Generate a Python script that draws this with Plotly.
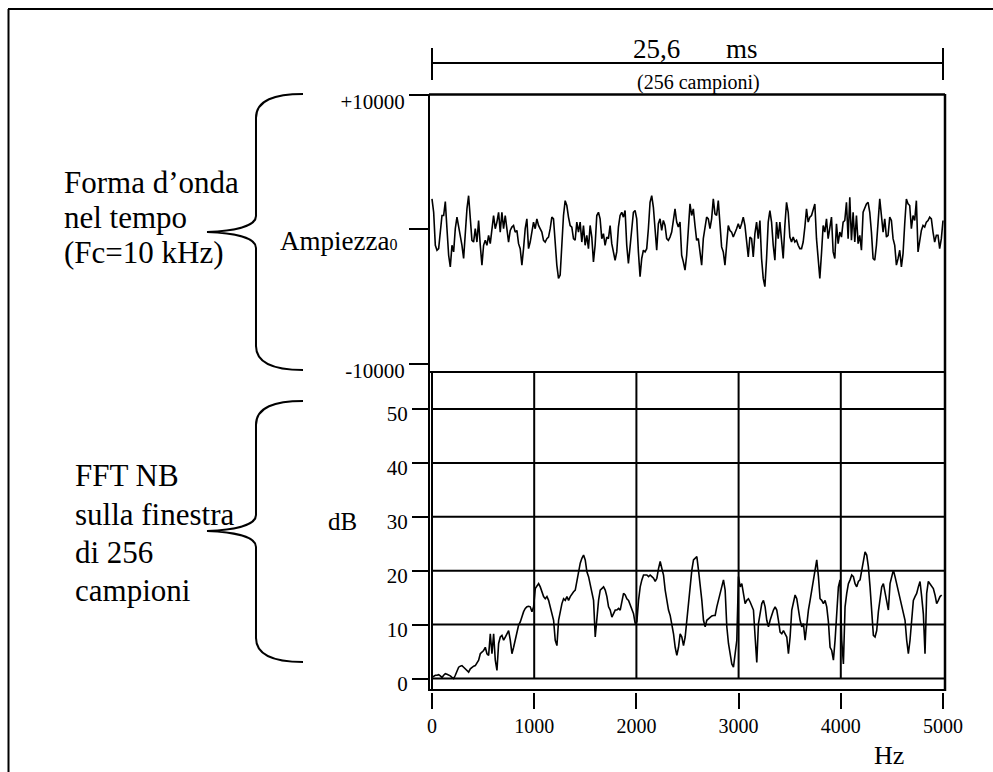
import numpy as np
import plotly.graph_objects as go

W, H = 993, 772
FONT = "Liberation Serif"

# ---------------- data ----------------
WINDOW_MS = 25.6
amplitude = [
    2250, 1260, -1190, -1560, -1440, -210, 1020, 1020, 2050, 40,
    -1930, -2790, -1190, -1680, 40, 900, 280, -450, -1190, -2170,
    -210, 1510, 2490, 1020, -820, -950, 40, -950, 650, -1190,
    -2660, -1190, -820, -1190, -450, -1070, 160, 1020, 40, 530,
    1260, -210, 1260, 40, 1020, 40, -950, -90, 160, 280,
    -210, -90, -1070, -1440, -2660, -1440, 40, 770, -1440, -950,
    -210, 530, 40, 770, 280, 40, -210, -820, -950, -700,
    -580, 40, 900, 770, -1440, -2660, -3650, -3400, -1190, 1020,
    2120, 1760, 900, 280, 160, -700, -820, 530, -210, 530,
    -950, 280, -1190, -450, -1440, 280, -580, -2420, -1190, 1020,
    1260, 770, -700, -330, -1190, -580, -700, 280, -1070, -1680,
    -2300, -1680, 160, 1020, 1260, 900, 1390, -1190, -2540, -1310,
    280, 1260, 1390, 770, -1680, -3520, -2170, -1560, -1680, -1440,
    40, 2000, 2490, 1630, 40, -1560, 410, 770, -90, 650,
    280, -700, -820, -580, -210, 770, 1510, 530, 160,
    530, -1930, -2420, -3030, -1930, -210, 1880, 1020, 1510, 280,
    -820, -700, -1800, -2660, -700, 40, 900, 770, 40, 770,
    2250, 1140, 1020, 2120, 280, -1310, -1680, -2660, -1190, 280,
    -90, -210, -580, -330, 40, 410, 40, 410, 900, 280,
    -1190, -2050, -580, -700, -2050, -330, 530, -700, 650, -2170,
    -3650, -4260, -2170, 530, 1390, 530, -1190, -2300, 530, -700,
    530, -1190, -2170, 280, 2000, 1260, -580, -950, -580, -950,
    -820, -1190, -1440, -1440, -950, 160, 1510, 530, 900, 1020,
    1510, 1880, -700, -1930, -3650, -1800, 280, -210, 770, -700,
    280, 900, -1680, -2170, 410, -1070, -210, -580, 530, 650,
    2000, -700, 2370, -820, 1260, -950, 1020, -1070, -450, -1560,
    1260, 1630, 1880, 2000, 1260, -210, -2170, -2300, -1190, 530,
    2250, 1020, -210, 770, -580, -450, 900, 650, -700, -1190,
    -2660, -2170, -1560, -2790, -1800, 410, 2250, 1880, 1760, 40,
    1020, 650, 2120, -1680, -950, -90, 280, 160, 530, 650,
    900, 770, -210, -950, -450, -450, -1440, -700, 650,
]
time_ms = np.linspace(0, WINDOW_MS, len(amplitude))

FFT_LAST_HZ = 4987
spectrum_db = [
    0.2, 0.4, 0.6, 0.6, 0.7, 0.5, 0.2, 0.6, 0.9, 0.8,
    0.7, 0.5, 0.2, 0.0, 0.6, 1.5, 2.1, 2.3, 2.4, 2.1,
    1.8, 1.5, 1.2, 1.8, 2.1, 2.3, 2.4, 2.9, 3.4, 4.6,
    4.9, 5.2, 5.8, 4.6, 4.3, 8.3, 4.6, 8.3, 3.4, 1.5,
    6.5, 7.7, 8.0, 7.1, 7.7, 8.3, 8.9, 7.1, 4.6, 5.8,
    7.1, 8.3, 9.9, 10.5, 11.7, 12.4, 13.0, 13.3, 13.4, 13.3,
    12.4, 13.3, 16.7, 17.3, 17.6, 17.0, 16.1, 15.2, 14.8, 15.2,
    14.5, 13.3, 12.0, 10.8, 7.1, 6.1, 10.8, 12.7, 13.9, 14.8,
    14.5, 15.2, 14.5, 15.2, 15.8, 16.1, 16.4, 18.3, 19.8, 21.4,
    22.3, 22.9, 22.0, 19.8, 18.9, 17.6, 16.4, 14.5, 7.7, 11.4,
    14.5, 16.4, 16.7, 17.0, 16.4, 15.2, 13.3, 12.7, 11.4, 12.0,
    12.7, 12.7, 13.0, 12.7, 14.5, 15.8, 15.5, 14.8, 14.5, 13.6,
    12.7, 12.0, 10.2, 10.5, 14.5, 17.0, 18.3, 19.2, 19.2, 19.2,
    18.9, 19.2, 18.9, 18.6, 18.0, 18.6, 20.4, 21.7, 20.4, 19.2,
    16.4, 14.5, 12.7, 11.7, 10.2, 8.3, 5.8, 4.3, 5.8,
    8.3, 7.7, 6.1, 7.7, 10.8, 15.2, 18.3, 20.1, 22.0, 22.3,
    22.6, 20.1, 17.6, 14.5, 10.8, 9.6, 10.8, 11.1, 11.4, 11.6,
    11.7, 11.7, 13.3, 14.5, 15.8, 17.0, 18.3, 16.4, 9.6, 6.5,
    4.3, 2.7, 2.1, 5.2, 7.1, 18.9, 17.0, 17.6, 15.8, 13.9,
    14.5, 14.8, 14.2, 13.3, 12.7, 7.7, 3.0, 10.2, 12.0, 13.9,
    14.5, 13.3, 10.8, 9.6, 10.8, 12.0, 12.7, 13.3, 12.7, 10.8,
    8.6, 8.3, 8.9, 8.3, 7.7, 4.6, 7.7, 12.7, 14.5, 15.5,
    14.8, 12.7, 10.8, 9.6, 10.2, 7.1, 10.2, 12.7, 14.5, 16.4,
    18.3, 19.5, 22.0, 18.9, 14.8, 14.5, 13.9, 14.5, 13.3, 10.5,
    5.8, 5.2, 3.4, 7.1, 12.0, 17.0, 18.3, 7.1, 2.7, 13.3,
    15.8, 17.6, 18.3, 19.2, 18.9, 17.6, 17.0, 18.0, 18.3, 20.1,
    22.3, 23.5, 22.9, 20.7, 17.0, 11.4, 8.0, 7.7, 8.9, 12.4,
    15.2, 17.0, 17.6, 15.8, 13.9, 12.7, 17.6, 18.9, 20.1, 18.9,
    17.6, 16.4, 15.2, 13.9, 12.7, 10.8, 7.1, 4.6, 7.1, 11.4,
    14.5, 15.2, 15.8, 17.0, 18.0, 15.2, 12.0, 4.6, 15.8, 18.0,
    17.6, 17.0, 16.7, 15.5, 13.9, 14.5, 15.2, 15.5,
]
freq_hz = np.linspace(0, FFT_LAST_HZ, len(spectrum_db))

amp_tickvals = [10000, 0, -10000]
amp_ticktext = ["+10000", "", "-10000"]
db_tickvals = [0, 10, 20, 30, 40, 50]
hz_tickvals = [0, 1000, 2000, 3000, 4000, 5000]
hz_gridvals = [1000, 2000, 3000, 4000]

AMP_RANGE = [-10000, 10000]
TIME_RANGE = [-0.15, 25.70]
HZ_RANGE = [-9.8, 5019.6]
DB_RANGE = [-2.13, 56.86]


def px(x):
    return x / W


def py(y):
    return 1 - y / H


fig = go.Figure()
fig.add_trace(go.Scatter(x=time_ms, y=amplitude, mode="lines", xaxis="x", yaxis="y",
                         line=dict(color="black", width=1.6), showlegend=False, hoverinfo="skip"))
fig.add_trace(go.Scatter(x=freq_hz, y=spectrum_db, mode="lines", xaxis="x2", yaxis="y2",
                         line=dict(color="black", width=1.6), showlegend=False, hoverinfo="skip"))

shapes = []


def pline(x0, y0, x1, y1, w=2):
    shapes.append(dict(type="line", xref="paper", yref="paper",
                       x0=px(x0), y0=py(y0), x1=px(x1), y1=py(y1),
                       line=dict(color="black", width=w)))


# outer frame
pline(8.5, 9, 8.5, 772)
pline(8, 9, 993, 9)
# top panel frame
pline(429, 94.5, 945, 94.5, 2.5)
pline(429, 94, 429, 691)
pline(945, 94, 945, 691, 2.5)
# bottom panel box
pline(429, 372, 945, 372)
pline(429, 690, 945, 690)
pline(432, 372, 432, 690)

# dB grid lines
for v in db_tickvals:
    shapes.append(dict(type="line", xref="x2 domain", yref="y2", x0=0, x1=1, y0=v, y1=v,
                       line=dict(color="black", width=2)))
for h in hz_gridvals:
    shapes.append(dict(type="line", xref="x2", yref="y2", x0=h, x1=h, y0=0, y1=DB_RANGE[1],
                       line=dict(color="black", width=2)))

# 25,6 ms dimension line
shapes.append(dict(type="line", xref="x", yref="paper", x0=0, x1=WINDOW_MS, y0=py(63), y1=py(63),
                   line=dict(color="black", width=2)))
for t in (0, WINDOW_MS):
    shapes.append(dict(type="line", xref="x", yref="paper", x0=t, x1=t, y0=py(48), y1=py(80),
                       line=dict(color="black", width=2)))


def brace(yt, ytip, yb, xe=303, xs=256, xt=207):
    pts = [
        ("M", [(xe, yt)]),
        ("C", [(xe - 28, yt), (xs, yt + 6), (xs, yt + 24)]),
        ("L", [(xs, ytip - 16)]),
        ("C", [(xs, ytip - 6), (xs - 21, ytip - 1), (xt, ytip)]),
        ("C", [(xs - 21, ytip + 1), (xs, ytip + 6), (xs, ytip + 16)]),
        ("L", [(xs, yb - 24)]),
        ("C", [(xs, yb - 6), (xe - 28, yb), (xe, yb)]),
    ]
    path = " ".join(cmd + " " + " ".join(f"{px(x):.5f},{py(y):.5f}" for x, y in p) for cmd, p in pts)
    shapes.append(dict(type="path", xref="paper", yref="paper", path=path,
                       line=dict(color="black", width=2)))


brace(94, 232, 370)
brace(401, 531, 662)

annotations = []


def txt(s, x, y, size, xanchor="left"):
    annotations.append(dict(text=s, x=px(x), y=py(y), xref="paper", yref="paper",
                            xanchor=xanchor, yanchor="middle", showarrow=False,
                            font=dict(family=FONT, size=size, color="black")))


txt("Forma d’onda", 62, 183, 31)
txt("nel tempo", 62, 217, 31)
txt("(Fc=10 kHz)", 62, 252, 31)
txt("FFT NB", 73, 475, 31)
txt("sulla finestra", 73, 514, 31)
txt("di 256", 73, 552, 31)
txt("campioni", 73, 590, 31)
txt('Ampiezza<span style="font-size:16px">0</span>', 278, 241, 27)
txt("dB", 342.5, 521, 25, "center")
txt("25,6", 656.5, 49, 27, "center")
txt("ms", 741.5, 49, 27, "center")
txt("(256 campioni)", 698, 83, 20, "center")
txt("Hz", 888.5, 755, 26, "center")

axis_common = dict(showgrid=False, zeroline=False, showline=False, automargin=False)
tickfont = dict(family=FONT, size=21, color="black")

fig.update_layout(
    template="none",
    width=W, height=H,
    margin=dict(l=0, r=0, t=0, b=0, pad=0, autoexpand=False),
    paper_bgcolor="white", plot_bgcolor="rgba(0,0,0,0)",
    showlegend=False,
    xaxis=dict(domain=[px(429), px(945)], range=TIME_RANGE, visible=False, anchor="y", **axis_common),
    yaxis=dict(domain=[py(364), py(94.5)], range=AMP_RANGE, anchor="x",
               tickvals=amp_tickvals, ticktext=amp_ticktext, ticks="outside", ticklen=19,
               tickwidth=2, tickcolor="black", tickfont=tickfont, ticklabelshift=7,
               **axis_common),
    xaxis2=dict(domain=[px(431), px(945)], range=HZ_RANGE, anchor="free", position=py(692),
                tickvals=hz_tickvals, ticks="outside", ticklen=16, tickwidth=2, tickcolor="black",
                tickfont=dict(family=FONT, size=20, color="black"), **axis_common),
    yaxis2=dict(domain=[py(690), py(372)], range=DB_RANGE, anchor="x2",
                tickvals=db_tickvals, ticks="outside", ticklen=18, tickwidth=2, tickcolor="black",
                tickfont=tickfont, ticklabelshift=5, **axis_common),
    shapes=shapes,
    annotations=annotations,
)

fig.write_html(
    "out.html",
    config={"displayModeBar": False},
    post_script="document.body.style.margin='0px';document.body.style.overflow='hidden';",
)
